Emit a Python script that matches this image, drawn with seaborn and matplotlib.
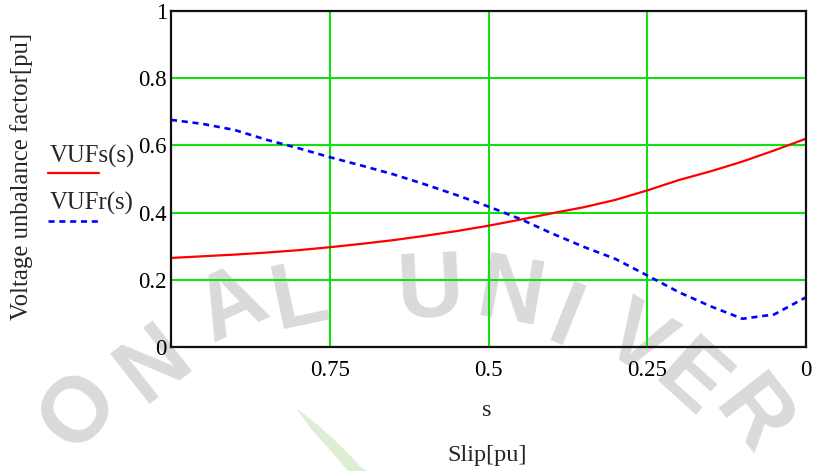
import matplotlib
matplotlib.use("Agg")
import matplotlib.pyplot as plt
import seaborn as sns
import pandas as pd
from matplotlib.patches import Polygon

# ---- data ----
slip = [1.00, 0.95, 0.90, 0.85, 0.80, 0.75, 0.70, 0.65, 0.60, 0.55, 0.50,
        0.45, 0.40, 0.35, 0.30, 0.25, 0.20, 0.15, 0.10, 0.05, 0.00]
vufs = [0.265, 0.270, 0.275, 0.281, 0.288, 0.297, 0.307, 0.318, 0.331, 0.345, 0.361,
        0.379, 0.398, 0.416, 0.438, 0.466, 0.497, 0.523, 0.552, 0.585, 0.620]
vufr = [0.676, 0.664, 0.646, 0.617, 0.592, 0.565, 0.540, 0.514, 0.484, 0.452, 0.418,
        0.381, 0.338, 0.298, 0.262, 0.213, 0.163, 0.121, 0.084, 0.097, 0.148]
x_ticks = [0.75, 0.5, 0.25, 0.0]
x_tick_labels = ["0.75", "0.5", "0.25", "0"]
y_ticks = [0, 0.2, 0.4, 0.6, 0.8, 1.0]
y_tick_labels = ["0", "0.2", "0.4", "0.6", "0.8", "1"]
series_labels = ["VUFs(s)", "VUFr(s)"]

df = pd.DataFrame({"s": slip, "VUFs": vufs, "VUFr": vufr})

sns.set_style("white")
plt.rcParams["font.family"] = ["Liberation Serif", "DejaVu Serif"]

W, H = 819, 471
fig = plt.figure(figsize=(W / 100, H / 100), dpi=100)
fig.patch.set_facecolor("white")

def fx(px):
    return px / W

def fy(py):
    return 1 - py / H

# ---- faint watermark behind the chart ----
wm = [("O", 80, 412, 50), ("N", 155, 365, 38), ("A", 232, 307, 25),
      ("L", 300, 300, 12), ("U", 430, 292, 3), ("N", 511, 297, -10),
      ("I", 565, 323, -22), ("V", 636, 343, -32), ("E", 690, 383, -42),
      ("R", 752, 418, -52)]
for ch, x, y, r in wm:
    fig.text(fx(x), fy(y), ch, fontsize=66, fontweight="bold",
             family=["Liberation Sans", "DejaVu Sans"], color="#dadada",
             rotation=r, ha="center", va="center", zorder=-5)
leaf = Polygon([[fx(p[0]), fy(p[1])] for p in
                [(296, 408), (318, 425), (342, 447), (362, 468), (368, 471),
                 (348, 471), (330, 450), (312, 430)]],
               closed=True, transform=fig.transFigure, facecolor="#dcefd2",
               edgecolor="none", zorder=-5)
fig.patches.append(leaf)

ax = fig.add_axes([fx(171), fy(347), fx(806 - 171), (347 - 11) / H])
ax.set_facecolor("none")

sns.lineplot(data=df, x="s", y="VUFs", ax=ax, color="#ff0000", lw=1.6,
             sort=False, zorder=4)
sns.lineplot(data=df, x="s", y="VUFr", ax=ax, color="#0000ff", lw=1.9,
             sort=False, zorder=4, dashes=False)
ax.lines[-1].set_dashes((2.3, 1.8))

ax.set_xlim(1, 0)
ax.set_ylim(0, 1)
ax.set_xticks(x_ticks)
ax.set_xticklabels(x_tick_labels)
ax.set_yticks(y_ticks)
ax.set_yticklabels(y_tick_labels)
ax.tick_params(axis="both", length=0, labelsize=16.5, colors="black")
ax.tick_params(axis="x", pad=9)
ax.tick_params(axis="y", pad=3)
ax.grid(True, color="#10e010", lw=1.5)
ax.set_axisbelow(True)
for sp in ax.spines.values():
    sp.set_visible(True)
    sp.set_color("#111111")
    sp.set_linewidth(1.6)
    sp.set_zorder(5)
ax.set_xlabel("")
ax.set_ylabel("")

# axis titles
fig.text(fx(22), fy(176), "Voltage unbalance factor[pu]", rotation=90,
         ha="center", va="center", fontsize=17.8)
fig.text(fx(487), fy(410), "s", ha="center", va="center", fontsize=17.5)
fig.text(fx(487), fy(455), "Slip[pu]", ha="center", va="center", fontsize=17.5)

# legend (Mathcad style, left of the axis)
fig.text(fx(50), fy(163), series_labels[0], ha="left", va="baseline", fontsize=17.8)
fig.add_artist(plt.Line2D([fx(48), fx(99)], [fy(173), fy(173)],
                          transform=fig.transFigure, color="#ff0000", lw=1.6))
fig.text(fx(50), fy(210), series_labels[1], ha="left", va="baseline", fontsize=17.8)
fig.add_artist(plt.Line2D([fx(48), fx(99)], [fy(221), fy(221)],
                          transform=fig.transFigure, color="#0000ff", lw=1.9,
                          dashes=(2.3, 1.8)))

fig.savefig("out.png", dpi=100)
